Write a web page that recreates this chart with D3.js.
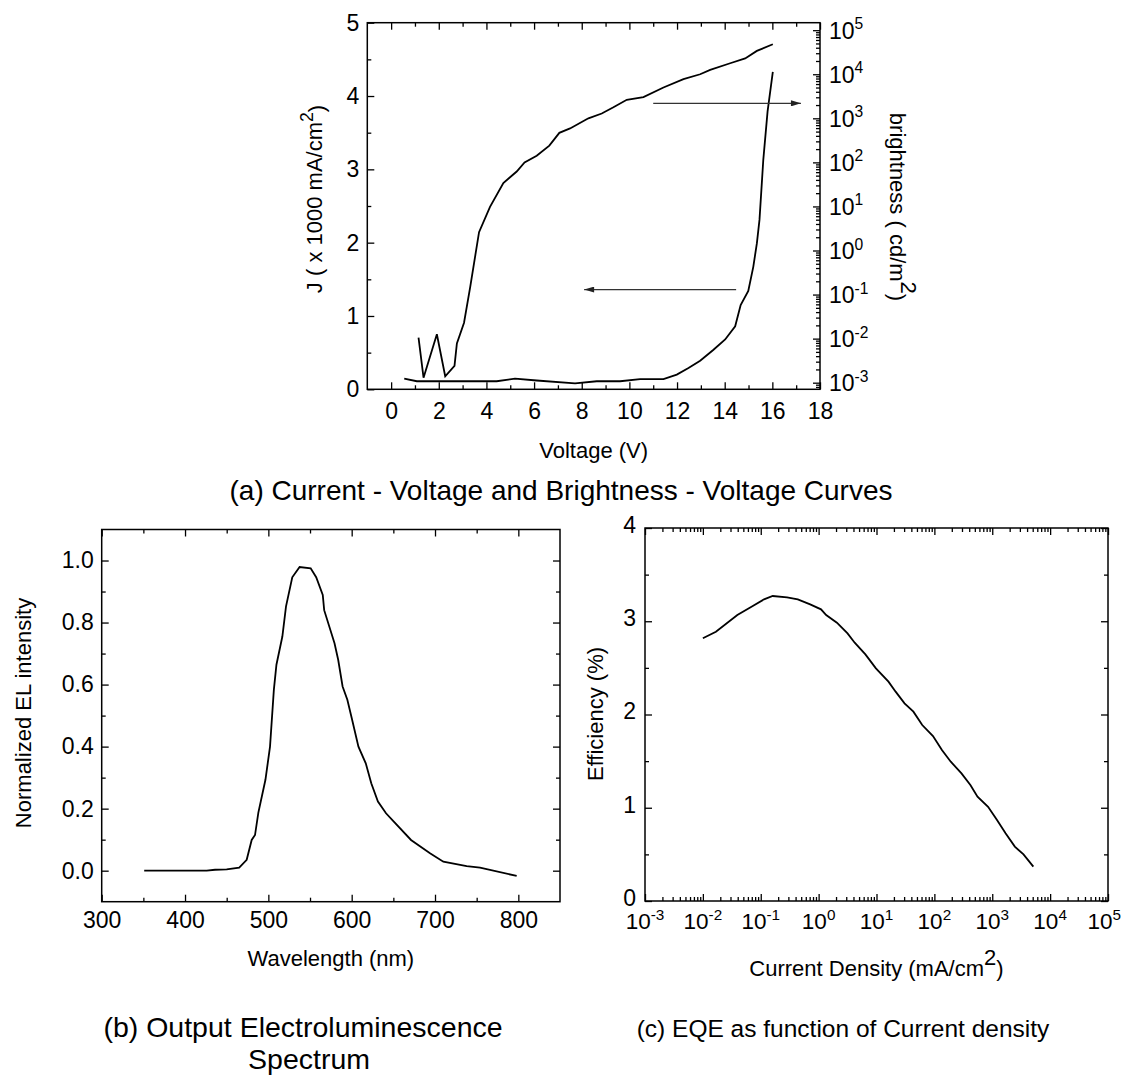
<!DOCTYPE html>
<html><head><meta charset="utf-8">
<script src="https://cdn.jsdelivr.net/npm/d3@7"></script>
<style>
body{margin:0;background:#fff}
svg text{font-family:"Liberation Sans",Arial,sans-serif;fill:#000}
</style></head><body>
<svg id="c" width="1123" height="1076"></svg>
<script>
// ---- Panel (a) data ----
const voltageJ = [0.55,1.08,4.43,5.2,6.11,7.72,8.63,9.61,10.45,11.43,11.99,12.48,12.97,13.53,14.02,14.44,14.67,14.99,15.2,15.35,15.46,15.62,15.8,16.02];
const currentJ = [0.145,0.11,0.11,0.145,0.12,0.08,0.11,0.11,0.14,0.14,0.2,0.29,0.39,0.54,0.68,0.86,1.15,1.34,1.67,1.99,2.31,3.13,3.79,4.33];
const voltageB = [1.15,1.36,1.92,2.27,2.66,2.76,3.06,3.32,3.69,4.15,4.71,5.27,5.6,6.11,6.64,7.06,7.51,8.28,8.84,9.33,9.89,10.59,11.43,12.27,12.97,13.39,14.23,14.86,15.35,16.02];
const brightness = [0.0105,0.0013,0.0126,0.0014,0.0024,0.0078,0.023,0.15,2.6,9.8,34,62,100,141,240,468,589,1000,1288,1778,2630,3020,5012,7762,10000,12589,17783,22909,33884,47863];
const voltageTicks = [0,2,4,6,8,10,12,14,16,18];
const jTicks = [0,1,2,3,4,5];
const brightnessTicks = [1e-3,1e-2,1e-1,1e0,1e1,1e2,1e3,1e4,1e5];
// arrows: [x1,y1,x2,y2] in data units (left axis J)
const arrowLeft = [14.48,1.36,8.1,1.36];
const arrowRight = [11.0,3.9,17.2,3.9];

// ---- Panel (b) data ----
const wavelength = [351,426,436,450,465,474,480,484,488,496.5,502,506.6,509.7,516.8,521.2,528.7,537.5,550.8,557.4,565.3,567,579.4,583.8,589.1,594.8,600.6,608.1,616.9,623.5,631.5,641.2,650,671.2,694,710,738,754,798];
const elIntensity = [0,0,0.003,0.004,0.01,0.035,0.099,0.115,0.187,0.293,0.40,0.583,0.664,0.755,0.852,0.946,0.979,0.975,0.946,0.889,0.84,0.733,0.68,0.594,0.551,0.486,0.40,0.346,0.282,0.223,0.185,0.16,0.099,0.056,0.029,0.015,0.01,-0.017];
const wavelengthTicks = [300,400,500,600,700,800];
const intensityTicks = [0,0.2,0.4,0.6,0.8,1.0];

// ---- Panel (c) data ----
const currentDensity = [0.01,0.0168,0.0394,0.0692,0.114,0.161,0.285,0.437,0.714,1.10,1.35,2.07,3.16,4.20,6.43,9.77,16.1,21.4,30.5,43.4,61.7,94.6,135,192,294,419,556,847,1208,1698,2455,3467,5129];
const efficiency = [2.817,2.888,3.067,3.156,3.235,3.271,3.257,3.235,3.181,3.128,3.067,2.985,2.87,2.77,2.645,2.495,2.352,2.245,2.12,2.03,1.887,1.769,1.619,1.494,1.369,1.244,1.119,1.011,0.869,0.726,0.583,0.50,0.368];
const densityTicks = [1e-3,1e-2,1e-1,1e0,1e1,1e2,1e3,1e4,1e5];
const efficiencyTicks = [0,1,2,3,4];

const svg = d3.select('#c');
const FONT = '"Liberation Sans",Arial,sans-serif';
const MAJ = 7, MIN = 4;
const TICKFS = 23, AXFS = 22, TITLEFS = 28;

svg.append('defs').append('marker').attr('id','arr').attr('viewBox','0 0 10 6')
  .attr('refX',10).attr('refY',3).attr('markerWidth',11).attr('markerHeight',6)
  .attr('markerUnits','userSpaceOnUse').attr('orient','auto')
  .append('path').attr('d','M0,0L10,3L0,6Z').attr('fill','#222');

function frame(g,L,R,T,B){
  g.append('rect').attr('x',L).attr('y',T).attr('width',R-L).attr('height',B-T)
   .attr('fill','none').attr('stroke','#000').attr('stroke-width',1.5);
}
function ticks(g, axisFn, scale, values, size, tx, ty){
  const a = g.append('g').attr('transform',`translate(${tx},${ty})`)
    .call(axisFn(scale).tickValues(values).tickSize(-size).tickFormat(''));
  a.select('.domain').remove();
  a.selectAll('.tick line').attr('stroke','#000').attr('stroke-width',1.3);
  return a;
}
function labels(g, axisFn, scale, values, fmt, pad, tx, ty, fs){
  const a = g.append('g').attr('transform',`translate(${tx},${ty})`)
    .call(axisFn(scale).tickValues(values).tickSize(0).tickPadding(pad).tickFormat(fmt));
  a.select('.domain').remove();
  a.attr('font-size',fs).attr('font-family',FONT);
  a.selectAll('text').attr('fill','#000');
  return a;
}
function minorLog(domain){
  const out=[]; const lo=Math.floor(Math.log10(domain[0])), hi=Math.ceil(Math.log10(domain[1]));
  for(let e=lo;e<hi;e++) for(let m=2;m<=9;m++){const v=m*10**e; if(v>domain[0]&&v<domain[1]) out.push(v);}
  return out;
}
function expLabel(sel, v){
  const e = Math.round(Math.log10(v));
  sel.append('tspan').text('10');
  sel.append('tspan').attr('dy','-0.62em').attr('font-size','0.68em').text(String(e));
}

// ================= Panel (a) =================
{
  const L=367.3,R=820,T=22.7,B=389.3;
  const x = d3.scaleLinear([-1,18],[L,R]);
  const yJ = d3.scaleLinear([0,5],[B,T]);
  const yB = d3.scaleLog([10**-3.15,10**5.17],[B,T]);
  const g = svg.append('g');
  const minorV = d3.range(-1,18,2).filter(v=>v>-1);
  ticks(g,d3.axisBottom,x,voltageTicks,MAJ,0,B);
  ticks(g,d3.axisBottom,x,minorV,MIN,0,B);
  ticks(g,d3.axisTop,x,voltageTicks,MAJ,0,T);
  ticks(g,d3.axisTop,x,minorV,MIN,0,T);
  ticks(g,d3.axisLeft,yJ,jTicks,MAJ,L,0);
  ticks(g,d3.axisLeft,yJ,d3.range(0.5,5,1),MIN,L,0);
  ticks(g,d3.axisRight,yB,brightnessTicks,MAJ,R,0);
  ticks(g,d3.axisRight,yB,minorLog(yB.domain()),MIN,R,0);
  frame(g,L,R,T,B);
  labels(g,d3.axisBottom,x,voltageTicks,d3.format('d'),13,0,B,TICKFS);
  labels(g,d3.axisLeft,yJ,jTicks,d3.format('d'),8,L,0,TICKFS);
  g.selectAll('text.rl').data(brightnessTicks).join('text').attr('class','rl')
    .attr('x',R+9).attr('y',d=>yB(d)).attr('dy','0.38em').attr('font-size',TICKFS)
    .each(function(d){expLabel(d3.select(this),d);});
  const line = d3.line();
  g.append('path').attr('d',line(voltageJ.map((v,i)=>[x(v),yJ(currentJ[i])])))
    .attr('fill','none').attr('stroke','#000').attr('stroke-width',1.8);
  g.append('path').attr('d',line(voltageB.map((v,i)=>[x(v),yB(brightness[i])])))
    .attr('fill','none').attr('stroke','#000').attr('stroke-width',1.8);
  [arrowLeft,arrowRight].forEach(a=>{
    g.append('line').attr('x1',x(a[0])).attr('y1',yJ(a[1])).attr('x2',x(a[2])).attr('y2',yJ(a[3]))
      .attr('stroke','#333').attr('stroke-width',1.1).attr('marker-end','url(#arr)');
  });
  g.append('text').attr('x',(L+R)/2).attr('y',458).attr('text-anchor','middle').attr('font-size',AXFS).text('Voltage (V)');
  const jl = g.append('text').attr('transform',`translate(322,199) rotate(-90)`).attr('text-anchor','middle').attr('font-size',AXFS);
  jl.append('tspan').text('J ( x 1000 mA/cm');
  jl.append('tspan').attr('dy','-0.5em').attr('font-size','0.8em').text('2');
  jl.append('tspan').attr('dy','0.5em').text(')');
  const bl = g.append('text').attr('transform',`translate(890,207) rotate(90)`).attr('text-anchor','middle').attr('font-size',AXFS);
  bl.append('tspan').text('brightness ( cd/m');
  bl.append('tspan').attr('dy','-0.5em').attr('font-size','1em').text('2');
  bl.append('tspan').attr('dy','0.5em').text(')');
  g.append('text').attr('x',561).attr('y',500).attr('text-anchor','middle').attr('font-size',TITLEFS)
    .text('(a) Current - Voltage and Brightness - Voltage Curves');
}

// ================= Panel (b) =================
{
  const L=101.7,R=560,T=529.5,B=901.7;
  const x = d3.scaleLinear([300,850],[L,R]);
  const y = d3.scaleLinear([-0.1,1.1],[B,T]);
  const g = svg.append('g');
  const minorX = d3.range(350,850,100);
  const minorY = [0.1,0.3,0.5,0.7,0.9];
  ticks(g,d3.axisBottom,x,wavelengthTicks,MAJ,0,B);
  ticks(g,d3.axisBottom,x,minorX,MIN,0,B);
  ticks(g,d3.axisTop,x,wavelengthTicks,MAJ,0,T);
  ticks(g,d3.axisTop,x,minorX,MIN,0,T);
  ticks(g,d3.axisLeft,y,intensityTicks,MAJ,L,0);
  ticks(g,d3.axisLeft,y,minorY,MIN,L,0);
  ticks(g,d3.axisRight,y,intensityTicks,MAJ,R,0);
  ticks(g,d3.axisRight,y,minorY,MIN,R,0);
  frame(g,L,R,T,B);
  labels(g,d3.axisBottom,x,wavelengthTicks,d3.format('d'),10,0,B,TICKFS);
  labels(g,d3.axisLeft,y,intensityTicks,d3.format('.1f'),8,L,0,TICKFS);
  g.append('path').attr('d',d3.line()(wavelength.map((v,i)=>[x(v),y(elIntensity[i])])))
    .attr('fill','none').attr('stroke','#000').attr('stroke-width',1.8);
  g.append('text').attr('x',(L+R)/2).attr('y',966).attr('text-anchor','middle').attr('font-size',AXFS).text('Wavelength (nm)');
  g.append('text').attr('transform','translate(31,713) rotate(-90)').attr('text-anchor','middle').attr('font-size',AXFS).text('Normalized EL intensity');
  g.append('text').attr('x',303).attr('y',1037).attr('text-anchor','middle').attr('font-size',TITLEFS+0.5).text('(b) Output Electroluminescence');
  g.append('text').attr('x',309).attr('y',1069).attr('text-anchor','middle').attr('font-size',TITLEFS+0.5).text('Spectrum');
}

// ================= Panel (c) =================
{
  const L=645,R=1108,T=528,B=901;
  const x = d3.scaleLog([1e-3,1e5],[L,R]);
  const y = d3.scaleLinear([0,4],[B,T]);
  const g = svg.append('g');
  const minorX = minorLog(x.domain());
  const minorY = [0.5,1.5,2.5,3.5];
  ticks(g,d3.axisBottom,x,densityTicks,MAJ,0,B);
  ticks(g,d3.axisBottom,x,minorX,MIN,0,B);
  ticks(g,d3.axisTop,x,densityTicks,MAJ,0,T);
  ticks(g,d3.axisTop,x,minorX,MIN,0,T);
  ticks(g,d3.axisLeft,y,efficiencyTicks,MAJ,L,0);
  ticks(g,d3.axisLeft,y,minorY,MIN,L,0);
  ticks(g,d3.axisRight,y,efficiencyTicks,MAJ,R,0);
  ticks(g,d3.axisRight,y,minorY,MIN,R,0);
  frame(g,L,R,T,B);
  labels(g,d3.axisLeft,y,efficiencyTicks,d3.format('d'),9,L,-3,TICKFS);
  g.selectAll('text.bl').data(densityTicks).join('text').attr('class','bl')
    .attr('x',d=>x(d)).attr('y',B+28).attr('text-anchor','middle').attr('font-size',TICKFS-0.5)
    .each(function(d){expLabel(d3.select(this),d);})
    .each(function(){
      const bb=this.getBBox();
      if(bb.x+bb.width>1121) d3.select(this).attr('x',+d3.select(this).attr('x')-(bb.x+bb.width-1121));
    });
  g.append('path').attr('d',d3.line()(currentDensity.map((v,i)=>[x(v),y(efficiency[i])])))
    .attr('fill','none').attr('stroke','#000').attr('stroke-width',1.8);
  const xl = g.append('text').attr('x',(L+R)/2).attr('y',976).attr('text-anchor','middle').attr('font-size',AXFS);
  xl.append('tspan').text('Current Density (mA/cm');
  xl.append('tspan').attr('dy','-0.5em').attr('font-size','1em').text('2');
  xl.append('tspan').attr('dy','0.5em').text(')');
  g.append('text').attr('transform','translate(603,714) rotate(-90)').attr('text-anchor','middle').attr('font-size',AXFS).text('Efficiency (%)');
  g.append('text').attr('x',843).attr('y',1037).attr('text-anchor','middle').attr('font-size',24.5).text('(c) EQE as function of Current density');
}
</script>
</body></html>
